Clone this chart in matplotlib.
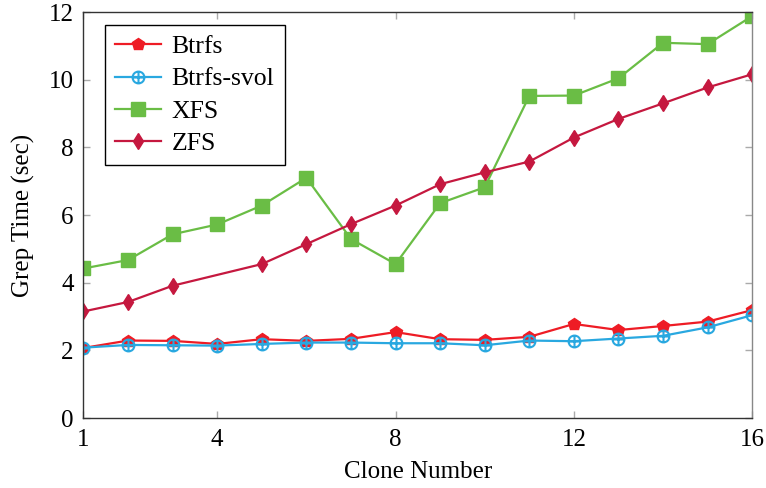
import numpy as np
import matplotlib
matplotlib.use("Agg")
import matplotlib.pyplot as plt
from matplotlib.path import Path

# Data
clones = [1, 2, 3, 4, 5, 6, 7, 8, 9, 10, 11, 12, 13, 14, 15, 16]
btrfs = [2.07, 2.29, 2.28, 2.19, 2.33, 2.28, 2.34, 2.54, 2.33, 2.31, 2.40, 2.78, 2.60, 2.72, 2.85, 3.19]
btrfs_svol = [2.08, 2.16, 2.15, 2.14, 2.19, 2.23, 2.23, 2.21, 2.21, 2.15, 2.29, 2.27, 2.35, 2.43, 2.68, 3.04]
xfs = [4.42, 4.67, 5.43, 5.72, 6.28, 7.10, 5.29, 4.55, 6.35, 6.82, 9.52, 9.53, 10.04, 11.09, 11.05, 11.88]
# ZFS has no point at 4 clones
zfs_x = [1, 2, 3, 5, 6, 7, 8, 9, 10, 11, 12, 13, 14, 15, 16]
zfs = [3.15, 3.43, 3.91, 4.55, 5.14, 5.73, 6.28, 6.91, 7.26, 7.58, 8.29, 8.84, 9.30, 9.77, 10.16]

xticks = [1, 4, 8, 12, 16]
yticks = [0, 2, 4, 6, 8, 10, 12]

plt.rcParams['font.family'] = ['Liberation Serif', 'DejaVu Serif']

# circle with a plus inside (pgfplots "oplus")
oplus = Path.make_compound_path(
    Path.unit_circle(),
    Path([[-1, 0], [1, 0]], [Path.MOVETO, Path.LINETO]),
    Path([[0, -1], [0, 1]], [Path.MOVETO, Path.LINETO]))

fig = plt.figure(figsize=(7.66, 4.88), dpi=100)
ax = fig.add_axes([0.109, 0.1434, 0.873, 0.832])

ax.plot(clones, btrfs, c='#ee1c25', marker='p', markersize=9, lw=1.6, label='Btrfs')
ax.plot(clones, btrfs_svol, c='#29a8e0', marker=oplus, markersize=8.5, markeredgewidth=1.5,
        mfc='none', lw=1.6, label='Btrfs-svol')
ax.plot(clones, xfs, c='#6abd45', marker='s', markersize=10, lw=1.6, label='XFS')
ax.plot(zfs_x, zfs, c='#c5183f', marker='d', markersize=8.5, lw=1.6, label='ZFS')

ax.set_xlim(1, 16)
ax.set_ylim(0, 12)
ax.set_xticks(xticks)
ax.set_yticks(yticks)
ax.tick_params(direction='in', length=5, color='#aaaaaa', width=1, labelsize=18,
               top=True, right=True, pad=8)
ax.tick_params(axis='y', pad=7)
for s in ['left', 'bottom', 'top']:
    ax.spines[s].set_color('#333333')
ax.spines['right'].set_color('#888888')
for s in ax.spines.values():
    s.set_linewidth(1.0)

ax.set_xlabel('Clone Number', fontsize=18, labelpad=7)
ax.set_ylabel('Grep Time (sec)', fontsize=18, labelpad=10)

leg = ax.legend(loc='upper left', bbox_to_anchor=(0.032, 0.968), borderaxespad=0,
                fontsize=18.5, fancybox=False, edgecolor='black', framealpha=1,
                handlelength=1.8, borderpad=0.4, labelspacing=0.36, handletextpad=0.4)
leg.get_frame().set_linewidth(1.0)

plt.savefig('out.png', dpi=100)
